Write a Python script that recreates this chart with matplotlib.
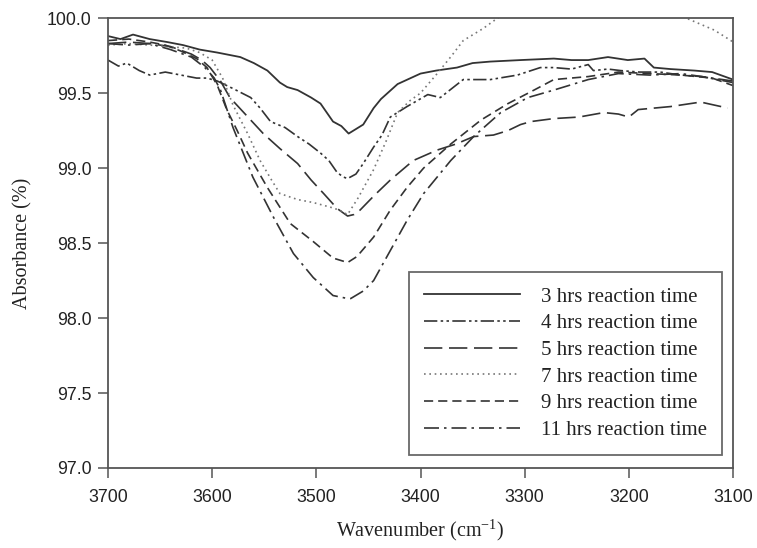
import matplotlib
matplotlib.use("Agg")
import matplotlib.pyplot as plt
import numpy as np

# ---- data ----
wn_3h = [3700, 3688, 3676, 3660, 3643, 3628, 3612, 3595, 3573, 3560, 3547, 3535, 3528, 3518, 3505, 3496, 3484, 3476, 3469, 3462, 3455, 3445, 3438, 3422, 3400, 3385, 3365, 3350, 3333, 3304, 3272, 3255, 3239, 3220, 3201, 3185, 3176, 3160, 3137, 3120, 3100]
ab_3h = [99.88, 99.86, 99.89, 99.86, 99.84, 99.82, 99.79, 99.77, 99.74, 99.70, 99.65, 99.57, 99.54, 99.52, 99.47, 99.43, 99.31, 99.28, 99.23, 99.26, 99.29, 99.40, 99.46, 99.56, 99.63, 99.65, 99.67, 99.70, 99.71, 99.72, 99.73, 99.72, 99.72, 99.74, 99.72, 99.73, 99.67, 99.66, 99.65, 99.64, 99.59]

wn_4h = [3700, 3690, 3682, 3670, 3660, 3645, 3630, 3615, 3605, 3595, 3580, 3563, 3554, 3544, 3530, 3518, 3507, 3496, 3488, 3480, 3474, 3470, 3462, 3455, 3445, 3437, 3429, 3413, 3393, 3381, 3370, 3359, 3333, 3307, 3285, 3272, 3255, 3239, 3234, 3220, 3208, 3190, 3170, 3150, 3130, 3100]
ab_4h = [99.72, 99.68, 99.70, 99.65, 99.62, 99.64, 99.62, 99.60, 99.60, 99.58, 99.53, 99.47, 99.40, 99.31, 99.27, 99.21, 99.16, 99.10, 99.05, 98.97, 98.94, 98.93, 98.96, 99.03, 99.14, 99.22, 99.34, 99.41, 99.49, 99.47, 99.53, 99.59, 99.59, 99.62, 99.67, 99.67, 99.66, 99.69, 99.65, 99.66, 99.65, 99.64, 99.64, 99.62, 99.61, 99.57]

wn_5h = [3700, 3680, 3660, 3640, 3620, 3610, 3602, 3592, 3583, 3567, 3551, 3535, 3518, 3505, 3493, 3480, 3470, 3464, 3458, 3444, 3429, 3407, 3384, 3366, 3349, 3330, 3316, 3304, 3294, 3272, 3248, 3224, 3210, 3200, 3191, 3160, 3131, 3105]
ab_5h = [99.83, 99.84, 99.83, 99.81, 99.76, 99.72, 99.67, 99.58, 99.47, 99.35, 99.23, 99.13, 99.03, 98.92, 98.83, 98.73, 98.68, 98.69, 98.72, 98.82, 98.92, 99.05, 99.12, 99.16, 99.21, 99.22, 99.25, 99.29, 99.31, 99.33, 99.34, 99.37, 99.36, 99.34, 99.39, 99.41, 99.44, 99.40]

wn_7h = [3700, 3680, 3660, 3643, 3625, 3612, 3600, 3590, 3580, 3566, 3554, 3543, 3535, 3518, 3503, 3487, 3478, 3470, 3460, 3445, 3433, 3422, 3410, 3400, 3384, 3370, 3359, 3340, 3326, 3300, 3260, 3220, 3180, 3145, 3118, 3102, 3100]
ab_7h = [99.82, 99.83, 99.82, 99.81, 99.80, 99.77, 99.72, 99.60, 99.42, 99.23, 99.05, 98.92, 98.83, 98.79, 98.77, 98.74, 98.72, 98.69, 98.80, 98.99, 99.18, 99.37, 99.45, 99.50, 99.63, 99.75, 99.85, 99.93, 100.00, 100.12, 100.25, 100.30, 100.20, 100.00, 99.92, 99.85, 99.84]

wn_9h = [3700, 3680, 3660, 3645, 3630, 3615, 3605, 3595, 3586, 3576, 3566, 3547, 3525, 3503, 3484, 3470, 3461, 3445, 3429, 3413, 3397, 3371, 3342, 3316, 3291, 3272, 3239, 3210, 3180, 3150, 3120, 3100]
ab_9h = [99.85, 99.86, 99.84, 99.82, 99.78, 99.73, 99.67, 99.55, 99.39, 99.25, 99.10, 98.87, 98.63, 98.51, 98.40, 98.37, 98.41, 98.54, 98.72, 98.87, 99.00, 99.16, 99.32, 99.43, 99.52, 99.59, 99.61, 99.64, 99.63, 99.62, 99.60, 99.55]

wn_11h = [3700, 3680, 3660, 3640, 3620, 3607, 3598, 3592, 3580, 3561, 3541, 3522, 3503, 3484, 3470, 3467, 3455, 3445, 3429, 3413, 3397, 3371, 3349, 3323, 3297, 3272, 3239, 3210, 3180, 3150, 3120, 3100]
ab_11h = [99.83, 99.82, 99.83, 99.79, 99.74, 99.67, 99.60, 99.52, 99.27, 98.94, 98.67, 98.43, 98.27, 98.15, 98.13, 98.13, 98.18, 98.25, 98.45, 98.65, 98.83, 99.05, 99.21, 99.37, 99.47, 99.52, 99.59, 99.63, 99.62, 99.63, 99.60, 99.58]

labels = ["3 hrs reaction time", "4 hrs reaction time", "5 hrs reaction time",
          "7 hrs reaction time", "9 hrs reaction time", "11 hrs reaction time"]
x_ticks = [3700, 3600, 3500, 3400, 3300, 3200, 3100]
y_ticks = [97.0, 97.5, 98.0, 98.5, 99.0, 99.5, 100.0]

# ---- style ----
plt.rcParams['mathtext.fontset'] = 'custom'
plt.rcParams['mathtext.rm'] = 'Liberation Serif'
serif = ['Liberation Serif', 'DejaVu Serif']
sans = ['Liberation Sans', 'DejaVu Sans']

fig = plt.figure(figsize=(7.57, 5.48), dpi=100)
ax = fig.add_axes([0.1427, 0.146, 0.8256, 0.821])

lc = '#333333'
series = [
    (wn_3h, ab_3h, '-', lc, 1.3),
    (wn_4h, ab_4h, (0, (8, 2, 1.5, 2, 1.5, 2)), lc, 1.2),
    (wn_5h, ab_5h, (0, (11, 4)), lc, 1.2),
    (wn_7h, ab_7h, (0, (1, 2.2)), '#777777', 1.2),
    (wn_9h, ab_9h, (0, (5.5, 3)), lc, 1.2),
    (wn_11h, ab_11h, (0, (9, 3, 1.5, 3)), lc, 1.2),
]
for (x, y, ls, c, lw), lab in zip(series, labels):
    ax.plot(x, y, linestyle=ls, color=c, lw=lw, label=lab)

ax.set_xlim(3700, 3100)
ax.set_ylim(97.0, 100.0)
ax.set_xticks(x_ticks)
ax.set_yticks(y_ticks)
ax.set_xticklabels([str(v) for v in x_ticks], family=sans, fontsize=12.8, color='#222222')
ax.set_yticklabels(["%.1f" % v for v in y_ticks], family=sans, fontsize=12.8, color='#222222')
ax.tick_params(axis='x', direction='out', length=7, width=1.1, color='#555555', top=False, pad=8)
ax.tick_params(axis='y', direction='out', length=7, width=1.1, color='#555555', right=False, pad=5)
for s in ax.spines.values():
    s.set_color('#555555')
    s.set_linewidth(1.3)

ax.set_xlabel(r'Wavenumber (cm$^{\mathregular{-1}}$)', family=serif, fontsize=14.5, labelpad=8, color='#222222')
ax.set_ylabel('Absorbance (%)', family=serif, fontsize=14.5, labelpad=10, color='#222222')

leg = ax.legend(loc='lower right', bbox_to_anchor=(0.982, 0.029), borderaxespad=0,
                prop={'family': serif, 'size': 15}, handlelength=4.6, handletextpad=1.0,
                labelspacing=0.34, fancybox=False, frameon=True, borderpad=0.72)
leg.get_frame().set_edgecolor('#444444')
leg.get_frame().set_linewidth(1.3)
for t in leg.get_texts():
    t.set_color('#222222')

fig.savefig('out.png', dpi=100)
